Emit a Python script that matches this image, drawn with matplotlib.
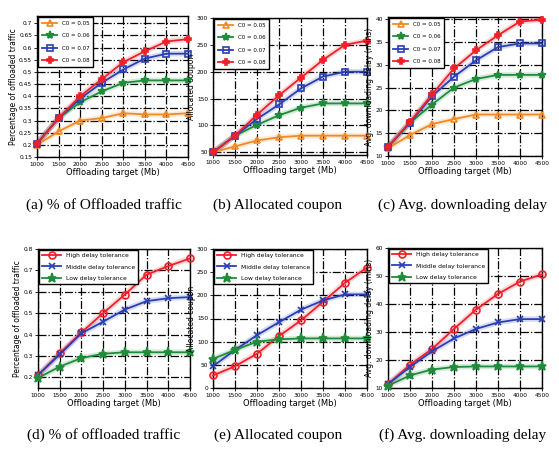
import matplotlib
matplotlib.use("Agg")
import matplotlib.pyplot as plt
import numpy as np

targets = [1000, 1500, 2000, 2500, 3000, 3500, 4000, 4500]

# Row 1: different C0
c0_labels = ["C0 = 0.05", "C0 = 0.06", "C0 = 0.07", "C0 = 0.08"]
pct_c0 = [
    [0.20, 0.255, 0.30, 0.31, 0.33, 0.325, 0.325, 0.33],
    [0.205, 0.31, 0.375, 0.42, 0.455, 0.465, 0.465, 0.465],
    [0.205, 0.31, 0.39, 0.455, 0.51, 0.555, 0.575, 0.575],
    [0.205, 0.31, 0.40, 0.47, 0.54, 0.585, 0.625, 0.635],
]
coupon_c0 = [
    [50, 61, 72, 78, 81, 81, 81, 81],
    [50, 81, 101, 119, 133, 141, 141, 141],
    [50, 81, 112, 139, 169, 191, 200, 200],
    [50, 81, 120, 156, 189, 222, 250, 258],
]
delay_c0 = [
    [11.7, 14.6, 17.0, 18.1, 19.1, 19.1, 19.1, 19.1],
    [12.0, 17.3, 21.3, 25.0, 26.9, 27.8, 27.8, 27.8],
    [12.0, 17.3, 23.1, 27.4, 31.0, 33.9, 34.7, 34.7],
    [12.0, 17.5, 23.5, 29.2, 33.2, 36.5, 39.5, 39.9],
]

# Row 2: delay tolerance
tol_labels = ["High delay tolerance", "Middle delay tolerance", "Low delay tolerance"]
pct_tol = [
    [0.21, 0.312, 0.41, 0.50, 0.587, 0.68, 0.72, 0.756],
    [0.21, 0.307, 0.406, 0.46, 0.517, 0.556, 0.57, 0.575],
    [0.197, 0.25, 0.29, 0.31, 0.317, 0.317, 0.317, 0.317],
]
coupon_tol = [
    [27, 47, 74, 112, 146, 186, 227, 260],
    [47, 82, 114, 142, 169, 189, 202, 202],
    [63, 82, 100, 105, 107, 107, 107, 107],
]
delay_tol = [
    [11.4, 18.3, 23.9, 31.1, 38.0, 43.6, 48.0, 50.6],
    [11.4, 17.5, 23.1, 27.7, 31.1, 33.4, 34.6, 34.6],
    [10.8, 14.5, 16.6, 17.5, 17.7, 17.7, 17.7, 17.7],
]

captions = ["(a) % of Offloaded traffic", "(b) Allocated coupon", "(c) Avg. downloading delay",
            "(d) % of offloaded traffic", "(e) Allocated coupon", "(f) Avg. downloading delay"]

c0_styles = [
    dict(color="#f08a24", marker="^", mfc="none", ms=5),
    dict(color="#1e8c3a", marker="*", mfc="#1e8c3a", ms=6),
    dict(color="#2b3fb5", marker="s", mfc="none", ms=4.5),
    dict(color="#f0202a", marker="P", mfc="#f0202a", ms=5),
]
tol_styles = [
    dict(color="#f0202a", marker="o", mfc="none", ms=5),
    dict(color="#2b3fb5", marker="x", mfc="none", ms=4.5),
    dict(color="#1e8c3a", marker="*", mfc="#1e8c3a", ms=6.5),
]

W, H = 559, 453
fig = plt.figure(figsize=(W / 100, H / 100), dpi=100)

def ax_at(l, t, r, b):
    return fig.add_axes([l / W, 1 - b / H, (r - l) / W, (b - t) / H])

boxes = [(37, 16, 188, 157), (213, 18, 367, 155), (388, 17, 542, 156),
         (38, 249, 190, 388), (213, 249, 367, 388), (388, 248, 542, 388)]

panels = [
    (pct_c0, c0_labels, c0_styles, "Percentage of offloaded traffic", (0.15, 0.73), np.arange(0.15, 0.701, 0.05)),
    (coupon_c0, c0_labels, c0_styles, "Allocated coupon", (45, 300), np.arange(50, 301, 50)),
    (delay_c0, c0_labels, c0_styles, "Avg. downloading delay (mins)", (10, 40.5), np.arange(10, 41, 5)),
    (pct_tol, tol_labels, tol_styles, "Percentage of offloaded traffic", (0.15, 0.8), np.arange(0.2, 0.801, 0.1)),
    (coupon_tol, tol_labels, tol_styles, "Allocated coupon", (0, 300), np.arange(0, 301, 50)),
    (delay_tol, tol_labels, tol_styles, "Avg. downloading delay (mins)", (10, 60), np.arange(10, 61, 10)),
]

cxs = [104, 278, 463, 104, 278, 463]

for i, (box, (data, labels, styles, ylab, ylim, yt)) in enumerate(zip(boxes, panels)):
    ax = ax_at(*box)
    for series, lab, st in zip(data, labels, styles):
        ax.plot(targets, series, color=st["color"], lw=4, alpha=0.18, zorder=2, clip_on=False)
        ax.plot(targets, series, color=st["color"], lw=1.3, marker=st["marker"],
                mfc=st["mfc"], mec=st["color"], ms=st["ms"], mew=1.2, label=lab,
                zorder=3, clip_on=False)
    ax.set_xlim(1000, 4500)
    ax.set_ylim(*ylim)
    ax.set_xticks(targets)
    ax.set_yticks(yt)
    ax.set_xticklabels([str(t) for t in targets], fontsize=4.2)
    ax.set_yticklabels([("%g" % v) for v in yt], fontsize=4.2)
    ax.tick_params(length=2, width=0.6, pad=1.5)
    ax.grid(True, color="black", linestyle="-.", linewidth=0.9)
    ax.set_axisbelow(True)
    for s in ax.spines.values():
        s.set_linewidth(1.0)
    ax.set_xlabel("Offloading target (Mb)", fontsize=6, labelpad=1)
    ax.set_ylabel(ylab, fontsize=5.5, labelpad=1)
    if i < 3:
        leg = ax.legend(loc="upper left", fontsize=4.0, frameon=True, fancybox=False,
                        edgecolor="black", handlelength=2.8, borderpad=0.6, labelspacing=1.35,
                        borderaxespad=0.25, framealpha=1)
    else:
        leg = ax.legend(loc="upper left", fontsize=4.3, frameon=True, fancybox=False,
                        edgecolor="black", handlelength=3.2, borderpad=0.5, labelspacing=1.0,
                        borderaxespad=0.2, framealpha=1)
    leg.get_frame().set_linewidth(1.0)
    cy = 205 if i < 3 else 435
    fig.text(cxs[i] / W, 1 - cy / H, captions[i], ha="center", va="center",
             fontsize=11, family="Liberation Serif")

fig.savefig("out.png", dpi=100)
